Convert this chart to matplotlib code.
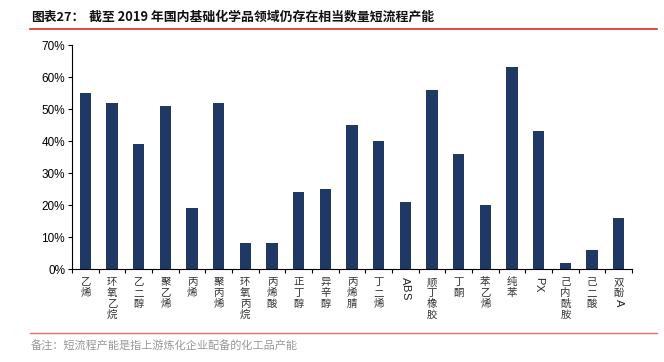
import matplotlib
matplotlib.use('Agg')
import matplotlib.pyplot as plt
from matplotlib.lines import Line2D

plt.rcParams['font.family'] = ['Liberation Sans', 'Noto Sans CJK SC', 'DejaVu Sans']

categories = ['乙烯', '环氧乙烷', '乙二醇', '聚乙烯', '丙烯', '聚丙烯', '环氧丙烷', '丙烯酸',
              '正丁醇', '异辛醇', '丙烯腈', '丁二烯', 'ABS', '顺丁橡胶', '丁酮', '苯乙烯',
              '纯苯', 'PX', '己内酰胺', '己二酸', '双酚A']
share = [55, 52, 39, 51, 19, 52, 8, 8, 24, 25, 45, 40, 21, 56, 36, 20, 63, 43, 2, 6, 16]
yticks = [0, 10, 20, 30, 40, 50, 60, 70]

title_no = '图表27：'
title = '截至 2019 年国内基础化学品领域仍存在相当数量短流程产能'
note = '备注：短流程产能是指上游炼化企业配备的化工品产能'

navy = '#1f3864'
cjk = ['Noto Sans CJK SC', 'DejaVu Sans']

fig = plt.figure(figsize=(6.64, 3.62), dpi=100)
ax = fig.add_axes([72 / 664, 1 - 269 / 362, 560 / 664, 224 / 362])

x = list(range(len(categories)))
ax.bar(x, share, width=0.42, color=navy)
ax.set_xlim(-0.5, len(categories) - 0.5)
ax.set_ylim(0, 70)
ax.set_yticks(yticks)
ax.set_yticklabels([f'{v}%' for v in yticks], fontsize=8.5)
ax.set_xticks([i + 0.5 for i in range(-1, len(categories))])
ax.set_xticklabels([])
ax.tick_params(axis='x', direction='out', length=3, width=0.8)
ax.tick_params(axis='y', direction='out', length=3, width=0.8, pad=2)
for s in ['top', 'right']:
    ax.spines[s].set_visible(False)
for s in ['left', 'bottom']:
    ax.spines[s].set_linewidth(0.8)

# vertical stacked category labels
for i, lab in enumerate(categories):
    cursor = 8
    for ch in lab:
        if ch.isascii():
            h = 7.4
            ax.annotate(ch, xy=(i, 0), xycoords=('data', 'axes fraction'),
                        xytext=(0, -(cursor + h / 2)), textcoords='offset pixels',
                        ha='center', va='center', rotation=-90, fontsize=8,
                        fontfamily='Liberation Sans', color='#222222')
        else:
            h = 10.8
            ax.annotate(ch, xy=(i, 0), xycoords=('data', 'axes fraction'),
                        xytext=(0, -(cursor + h / 2)), textcoords='offset pixels',
                        ha='center', va='center', fontsize=7.5,
                        fontfamily=cjk, color='#333333')
        cursor += h

fig.text(31 / 664, 1 - 17 / 362, title_no, fontsize=9.2, fontweight='bold',
         fontfamily=cjk, va='center', ha='left', color='#111111')
fig.text(89 / 664, 1 - 17 / 362, title, fontsize=9.3, fontweight='bold',
         fontfamily=cjk, va='center', ha='left', color='#111111')
fig.add_artist(Line2D([30 / 664, 657 / 664], [1 - 29 / 362] * 2,
                      color='#e0281c', lw=1.2, transform=fig.transFigure))
fig.add_artist(Line2D([30 / 664, 657 / 664], [1 - 333 / 362] * 2,
                      color='#e87060', lw=1.0, transform=fig.transFigure))
fig.text(31 / 664, 1 - 346 / 362, note, fontsize=8, fontfamily=cjk,
         va='center', ha='left', color='#999999')

fig.savefig('out.png', dpi=100)
